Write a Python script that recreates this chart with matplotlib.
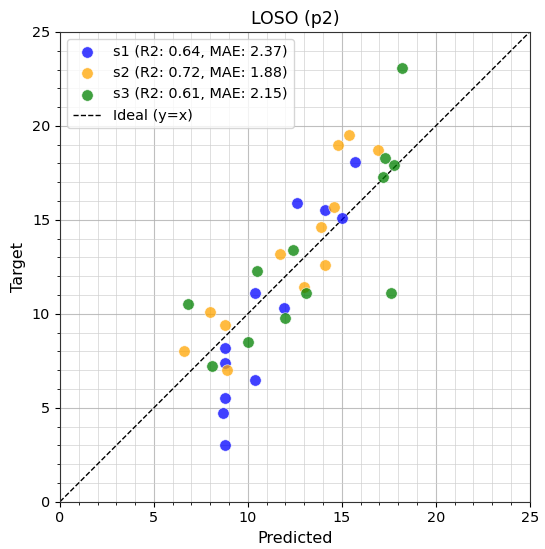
import matplotlib
matplotlib.use("Agg")
import matplotlib.pyplot as plt
from matplotlib.ticker import MultipleLocator

# predicted vs target per held-out subject
s1_pred = [12.6, 14.1, 15.0, 15.7, 10.4, 11.9, 8.8, 8.8, 10.4, 8.8, 8.7, 8.8]
s1_true = [15.9, 15.5, 15.1, 18.1, 11.1, 10.3, 8.2, 7.4, 6.5, 5.5, 4.7, 3.0]
s2_pred = [15.4, 14.8, 16.9, 14.6, 13.9, 11.7, 14.1, 13.0, 8.0, 8.8, 6.6, 8.9]
s2_true = [19.5, 19.0, 18.7, 15.7, 14.6, 13.2, 12.6, 11.4, 10.1, 9.4, 8.0, 7.0]
s3_pred = [18.2, 17.3, 17.8, 17.2, 12.4, 10.5, 13.1, 12.0, 17.6, 6.8, 10.0, 8.1]
s3_true = [23.1, 18.3, 17.9, 17.3, 13.4, 12.3, 11.1, 9.8, 11.1, 10.5, 8.5, 7.2]

labels = ["s1 (R2: 0.64, MAE: 2.37)",
          "s2 (R2: 0.72, MAE: 1.88)",
          "s3 (R2: 0.61, MAE: 2.15)"]
colors = ["blue", "orange", "green"]
lim = 25

fig, ax = plt.subplots(figsize=(5.45, 5.49), dpi=100)
for xs, ys, lab, c in zip([s1_pred, s2_pred, s3_pred],
                          [s1_true, s2_true, s3_true], labels, colors):
    ax.scatter(xs, ys, s=68, c=c, alpha=0.75, edgecolors="white",
               linewidths=0.5, label=lab, zorder=3)
ax.plot([0, lim], [0, lim], "k--", lw=1, label="Ideal (y=x)", zorder=2)

ax.set_xlim(0, lim)
ax.set_ylim(0, lim)
ax.xaxis.set_major_locator(MultipleLocator(5))
ax.yaxis.set_major_locator(MultipleLocator(5))
ax.xaxis.set_minor_locator(MultipleLocator(1))
ax.yaxis.set_minor_locator(MultipleLocator(1))
ax.tick_params(which="major", labelsize=10.4)
ax.grid(which="major", color="#b0b0b0", lw=0.8, alpha=0.8)
ax.grid(which="minor", color="#d0d0d0", lw=0.6, alpha=0.8)
ax.set_axisbelow(True)
for sp in ax.spines.values():
    sp.set_color("#333333")
ax.set_xlabel("Predicted", fontsize=11.5)
ax.set_ylabel("Target", fontsize=11.5)
ax.set_title("LOSO (p2)", fontsize=12.5)
ax.legend(loc="upper left", fontsize=10.4)
ax.set_aspect("equal")

fig.subplots_adjust(left=0.11, right=0.972, bottom=0.085, top=0.943)
fig.savefig("out.png", dpi=100)
